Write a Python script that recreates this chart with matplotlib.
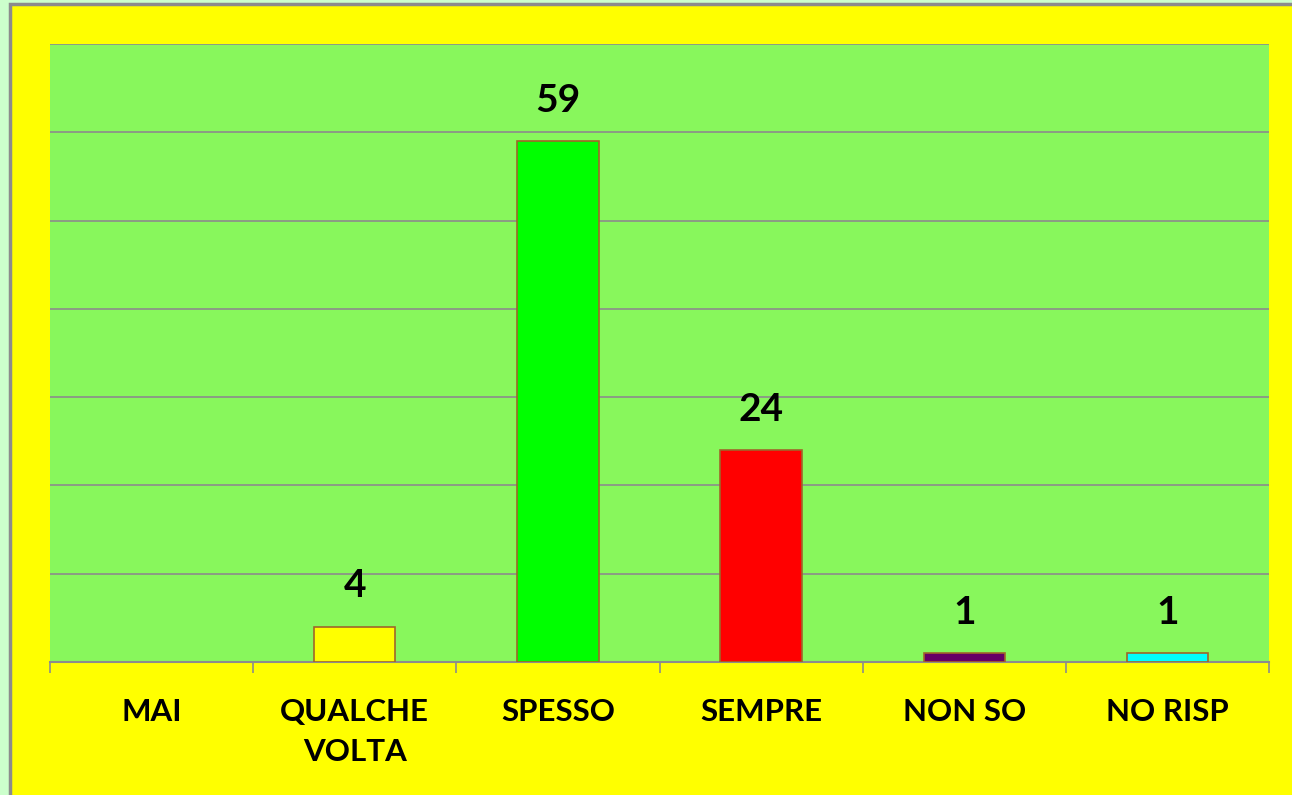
import numpy as np
import matplotlib.pyplot as plt
from matplotlib.patches import Rectangle

# Data
categories = ['MAI', 'QUALCHE\nVOLTA', 'SPESSO', 'SEMPRE', 'NON SO', 'NO RISP']
values = [0, 4, 59, 24, 1, 1]
labels = ['', '4', '59', '24', '1', '1']
bar_colors = ['#ffff00', '#ffff00', '#00ff00', '#ff0000', '#660066', '#00ffff']

plt.rcParams['font.family'] = ['Lato', 'DejaVu Sans']

fig = plt.figure(figsize=(12.92, 7.95), dpi=100, facecolor='#ccffcc')

# yellow chart area with grey frame
frame = Rectangle((10 / 1292, -0.05), 1.1, 1 - 4 / 795 + 0.05,
                  transform=fig.transFigure, facecolor='#ffff00',
                  edgecolor='#8c8c8c', linewidth=2.5, zorder=-5)
fig.patches.append(frame)

ax = fig.add_axes([50 / 1292, 133 / 795, 1219 / 1292, 618 / 795])
ax.set_facecolor('#88f75c')

x = np.arange(len(categories))
ax.bar(x, values, width=0.4, color=bar_colors, edgecolor='#a0662a',
       linewidth=[0 if v == 0 else 1.2 for v in values], zorder=3)

for xi, v, lab in zip(x, values, labels):
    if lab:
        ax.annotate(lab, (xi, v), xytext=(0, 17), textcoords='offset points',
                    ha='center', va='bottom', fontsize=28, fontweight='bold')

ax.set_xlim(-0.5, len(categories) - 0.5)
ax.set_ylim(0, 70)
ax.set_yticks(np.arange(0, 71, 10))
ax.yaxis.grid(True, color='#8c8c8c', linewidth=1.2, zorder=0)
ax.set_axisbelow(True)
ax.tick_params(axis='y', left=False, labelleft=False)

ax.set_xticks(x)
ax.set_xticklabels(categories, fontsize=22.5, fontweight='bold', linespacing=1.5)
ax.tick_params(axis='x', which='major', length=0, pad=26)
ax.set_xticks(np.arange(-0.5, len(categories), 1), minor=True)
ax.tick_params(axis='x', which='minor', length=8, color='#8c8c8c', width=1.2)

for side in ['left', 'right', 'top']:
    ax.spines[side].set_visible(False)
ax.spines['bottom'].set_color('#8c8c8c')
ax.spines['bottom'].set_linewidth(1.5)

fig.savefig('out.png', dpi=100, facecolor=fig.get_facecolor())
